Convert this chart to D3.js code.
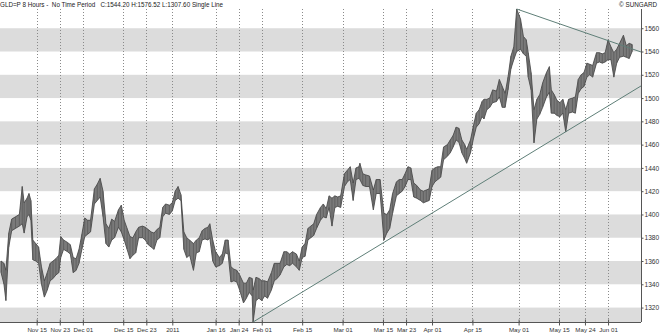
<!DOCTYPE html>
<html><head><meta charset="utf-8">
<script src="https://cdn.jsdelivr.net/npm/d3@7"></script>
<style>
html,body{margin:0;padding:0;background:#fff;}
svg{display:block;font-family:"Liberation Sans",Arial,sans-serif;}
</style></head>
<body><svg id="c" width="660" height="336"></svg>
<script>
const title = "GLD=P 8 Hours -  No Time Period   C:1544.20 H:1576.52 L:1307.60 Single Line";
const credit = "\u00A9 SUNGARD";
const xDomain = ["2010-11-02T07", "2011-06-12T10"];
const yDomain = [1307.6, 1576.52];
const yTicks = [1320,1340,1360,1380,1400,1420,1440,1460,1480,1500,1520,1540,1560];
const bandStarts = [1300,1340,1380,1420,1460,1500,1540];
const bandSize = 20;
const xTickDates = ["2010-11-15T00","2010-11-23T00","2010-12-01T00","2010-12-15T00","2010-12-23T00","2011-01-01T00","2011-01-16T00","2011-01-24T00","2011-02-01T00","2011-02-15T00","2011-03-01T00","2011-03-15T00","2011-03-23T00","2011-04-01T00","2011-04-15T00","2011-05-01T00","2011-05-15T00","2011-05-24T00","2011-06-01T00"];
const xTickLabels = ["Nov 15","Nov 23","Dec 01","Dec 15","Dec 23","2011","Jan 16","Jan 24","Feb 01","Feb 15","Mar 01","Mar 15","Mar 23","Apr 01","Apr 15","May 01","May 15","May 24","Jun 01"];

const dates = ["2010-11-02T16","2010-11-03T16","2010-11-04T08","2010-11-05T08","2010-11-06T08","2010-11-07T16","2010-11-09T00","2010-11-10T00","2010-11-10T16","2010-11-11T16","2010-11-12T08","2010-11-13T00","2010-11-13T16","2010-11-14T16","2010-11-15T16","2010-11-16T16","2010-11-17T16","2010-11-18T16","2010-11-19T16","2010-11-20T16","2010-11-21T16","2010-11-22T16","2010-11-23T08","2010-11-24T08","2010-11-25T16","2010-11-26T16","2010-11-27T16","2010-11-28T16","2010-11-29T16","2010-11-30T16","2010-12-01T16","2010-12-02T16","2010-12-03T16","2010-12-05T00","2010-12-06T00","2010-12-07T00","2010-12-08T00","2010-12-09T00","2010-12-10T00","2010-12-11T00","2010-12-12T00","2010-12-13T08","2010-12-14T08","2010-12-15T08","2010-12-16T08","2010-12-17T08","2010-12-18T08","2010-12-19T08","2010-12-20T08","2010-12-21T16","2010-12-22T16","2010-12-23T16","2010-12-24T16","2010-12-25T16","2010-12-26T16","2010-12-27T16","2010-12-28T16","2010-12-29T16","2010-12-31T00","2011-01-01T00","2011-01-02T00","2011-01-03T00","2011-01-04T00","2011-01-05T00","2011-01-06T00","2011-01-07T00","2011-01-08T08","2011-01-09T08","2011-01-10T08","2011-01-11T08","2011-01-12T08","2011-01-13T08","2011-01-14T00","2011-01-15T00","2011-01-16T00","2011-01-17T08","2011-01-18T08","2011-01-19T08","2011-01-20T08","2011-01-21T08","2011-01-22T08","2011-01-23T08","2011-01-24T08","2011-01-25T16","2011-01-26T16","2011-01-27T16","2011-01-28T16","2011-01-29T00","2011-01-30T00","2011-01-31T00","2011-02-01T00","2011-02-02T00","2011-02-03T00","2011-02-04T08","2011-02-05T08","2011-02-06T08","2011-02-07T08","2011-02-08T16","2011-02-09T16","2011-02-10T16","2011-02-11T16","2011-02-13T00","2011-02-14T00","2011-02-15T00","2011-02-16T00","2011-02-17T00","2011-02-18T00","2011-02-19T00","2011-02-20T00","2011-02-21T08","2011-02-22T08","2011-02-23T08","2011-02-24T08","2011-02-25T08","2011-02-26T08","2011-02-27T08","2011-02-28T08","2011-03-01T16","2011-03-02T16","2011-03-03T16","2011-03-04T16","2011-03-05T16","2011-03-06T16","2011-03-07T00","2011-03-08T00","2011-03-09T00","2011-03-10T08","2011-03-11T16","2011-03-12T16","2011-03-14T00","2011-03-15T08","2011-03-16T08","2011-03-17T08","2011-03-18T08","2011-03-19T16","2011-03-20T16","2011-03-21T16","2011-03-22T16","2011-03-23T16","2011-03-24T16","2011-03-25T16","2011-03-26T16","2011-03-28T00","2011-03-29T00","2011-03-30T00","2011-03-31T00","2011-04-01T00","2011-04-02T00","2011-04-03T00","2011-04-04T00","2011-04-05T00","2011-04-06T08","2011-04-07T08","2011-04-08T08","2011-04-09T08","2011-04-10T08","2011-04-11T08","2011-04-12T08","2011-04-13T00","2011-04-14T08","2011-04-15T08","2011-04-16T08","2011-04-17T08","2011-04-18T08","2011-04-19T00","2011-04-20T00","2011-04-21T00","2011-04-22T00","2011-04-23T08","2011-04-24T08","2011-04-25T08","2011-04-26T08","2011-04-27T08","2011-04-28T08","2011-04-29T08","2011-04-30T08","2011-05-01T16","2011-05-02T16","2011-05-03T16","2011-05-04T08","2011-05-05T08","2011-05-06T08","2011-05-07T08","2011-05-08T08","2011-05-09T08","2011-05-10T16","2011-05-11T16","2011-05-12T08","2011-05-13T08","2011-05-14T08","2011-05-15T08","2011-05-16T08","2011-05-17T08","2011-05-18T08","2011-05-19T16","2011-05-20T16","2011-05-21T16","2011-05-22T16","2011-05-23T16","2011-05-24T16","2011-05-25T16","2011-05-26T16","2011-05-28T00","2011-05-29T00","2011-05-30T00","2011-05-31T00","2011-06-01T00","2011-06-02T00","2011-06-03T00","2011-06-04T00","2011-06-05T00","2011-06-06T08","2011-06-07T08","2011-06-08T08","2011-06-09T08"];
const lows = [1350,1340,1326,1372,1386,1388,1390,1392,1384,1398,1400,1395,1361,1360,1358,1340,1329,1335,1343,1345,1348,1350,1363,1370,1368,1366,1350,1352,1358,1370,1381,1383,1385,1409,1412,1415,1398,1375,1372,1378,1380,1389,1385,1378,1370,1362,1365,1367,1380,1380,1378,1374,1372,1370,1378,1380,1398,1401,1400,1403,1412,1414,1412,1370,1363,1365,1352,1367,1368,1378,1379,1378,1380,1360,1355,1356,1358,1367,1366,1342,1343,1342,1335,1324,1328,1333,1330,1307.6,1326,1328,1326,1330,1328,1335,1343,1345,1348,1355,1357,1356,1358,1355,1352,1363,1364,1378,1380,1382,1388,1395,1398,1397,1406,1390,1406,1407,1406,1424,1428,1430,1412,1430,1431,1430,1425,1424,1424,1404,1418,1418,1378,1384,1388,1401,1416,1418,1420,1424,1430,1430,1415,1414,1412,1410,1411,1412,1424,1428,1430,1432,1447,1450,1453,1458,1464,1462,1453,1448,1444,1453,1465,1475,1478,1484,1482,1490,1492,1496,1497,1501,1492,1492,1507,1525,1533,1540,1542,1538,1536,1518,1507,1461.5,1482,1486,1492,1501,1505,1487,1487,1485,1484,1487,1471,1487,1488,1487,1504,1508,1510,1518,1520,1518,1530,1531,1530,1531,1533,1533,1518,1530,1535,1536,1535,1534,1540];
const highs = [1360,1358,1352,1384,1396,1398,1400,1424,1410,1414,1418,1412,1378,1375,1372,1355,1343,1350,1358,1360,1362,1365,1381,1378,1376,1374,1363,1362,1370,1383,1397,1395,1395,1422,1426,1431,1420,1392,1388,1396,1394,1404,1408,1395,1388,1381,1380,1385,1389,1390,1389,1387,1385,1384,1387,1389,1406,1409,1408,1410,1420,1424,1417,1385,1380,1378,1375,1378,1380,1386,1388,1389,1392,1378,1368,1363,1366,1378,1378,1355,1353,1352,1348,1341,1341,1346,1345,1335,1346,1345,1343,1343,1342,1350,1358,1358,1358,1368,1368,1366,1368,1366,1360,1372,1375,1388,1390,1392,1400,1406,1409,1405,1416,1414,1416,1415,1416,1435,1438,1441,1427,1440,1441,1444,1435,1434,1433,1421,1430,1430,1401,1400,1404,1418,1428,1430,1430,1435,1441,1440,1427,1425,1421,1420,1421,1422,1438,1440,1441,1441,1458,1460,1464,1468,1475,1474,1464,1460,1456,1464,1476,1487,1490,1497,1499,1499,1500,1507,1506,1516,1510,1504,1518,1536,1544,1576.52,1568,1553,1550,1539,1522,1490,1499,1503,1513,1522,1527,1507,1503,1498,1496,1499,1490,1499,1500,1501,1516,1520,1522,1530,1529,1528,1539,1539,1538,1539,1550,1544,1539,1542,1547,1554,1545,1547,1546];

const lowerTrend = {dates:["2011-01-29T00","2011-06-12T10"], values:[1307.6,1510.4]};
const upperTrend = {dates:["2011-04-30T08","2011-06-12T10"], values:[1576.52,1539.6]};

const parse = d3.timeParse("%Y-%m-%dT%H");
const svg = d3.select("#c");
const W = 641, plotTop = 9, plotBottom = 322;
const x = d3.scaleTime().domain(xDomain.map(parse)).range([0, W]);
const y = d3.scaleLinear().domain(yDomain).range([plotBottom, plotTop]);

// bands
svg.append("g").selectAll("rect").data(bandStarts).join("rect")
  .attr("x", 0).attr("width", W)
  .attr("y", d => y(Math.min(d + bandSize, yDomain[1])))
  .attr("height", d => y(Math.max(d, yDomain[0])) - y(Math.min(d + bandSize, yDomain[1])))
  .attr("fill", "#dcdcdc");

// vertical dotted grid
const xt = xTickDates.map(parse);
svg.append("g").selectAll("line").data(xt).join("line")
  .attr("x1", d => Math.round(x(d)) + 0.5).attr("x2", d => Math.round(x(d)) + 0.5)
  .attr("y1", plotTop).attr("y2", plotBottom)
  .attr("stroke", "#8a8a8a").attr("stroke-width", 1).attr("stroke-dasharray", "1,2");

// price data
const data = dates.map((d, i) => ({t: parse(d), lo: lows[i], hi: highs[i]}));
const area = d3.area().x(d => x(d.t)).y0(d => y(d.lo)).y1(d => y(d.hi));
svg.append("path").datum(data).attr("d", area).attr("fill", "#7a7a7a")
  .attr("stroke", "#3e3e3e").attr("stroke-width", 0.8).attr("stroke-linejoin", "miter");
svg.append("g").selectAll("line").data(data).join("line")
  .attr("x1", d => x(d.t)).attr("x2", d => x(d.t))
  .attr("y1", d => y(d.lo)).attr("y2", d => y(d.hi))
  .attr("stroke", "#5a5a5a").attr("stroke-width", 0.8);

// trend lines
const tl = d3.line().x(d => x(d[0])).y(d => y(d[1]));
[lowerTrend, upperTrend].forEach(tr => {
  svg.append("path").datum(tr.dates.map((d, i) => [parse(d), tr.values[i]]))
    .attr("d", tl).attr("fill", "none").attr("stroke", "#5f7f78").attr("stroke-width", 1);
});

// axes
const axY = svg.append("g").attr("transform", `translate(${W + 0.5},0)`)
  .call(d3.axisRight(y).tickValues(yTicks).tickSize(2).tickPadding(1).tickFormat(d3.format("d")));
const axX = svg.append("g").attr("transform", `translate(0,${plotBottom + 0.5})`)
  .call(d3.axisBottom(x).tickValues(xt).tickSize(3).tickPadding(2).tickFormat((d, i) => xTickLabels[i]));
[axY, axX].forEach(a => {
  a.select(".domain").attr("stroke", "#555");
  a.selectAll(".tick line").attr("stroke", "#555");
  a.selectAll("text").attr("fill", "#333").attr("font-family", "Liberation Sans, Arial, sans-serif");
});
axY.select(".domain").attr("d", `M0,${plotTop}V${plotBottom}`);
axX.select(".domain").attr("d", `M0,0H${W}`);
axY.selectAll("text").attr("font-size", 6.6);
axX.selectAll("text").attr("font-size", 6.2);
axX.selectAll(".tick line").attr("y1", -3);

svg.append("text").attr("x", 0).attr("y", 7).attr("font-size", 6.3).attr("fill", "#222")
  .style("white-space", "pre").text(title);
svg.append("text").attr("x", 657).attr("y", 7).attr("text-anchor", "end").attr("font-size", 6.3).attr("fill", "#222").text(credit);
</script></body></html>
